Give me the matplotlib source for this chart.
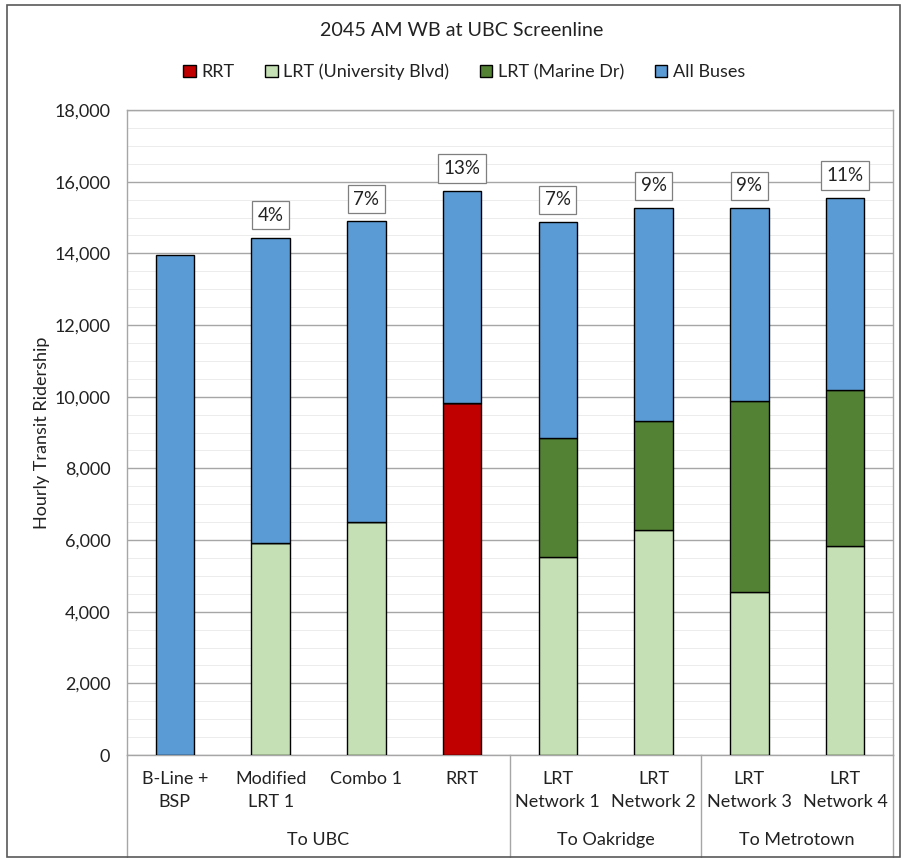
import matplotlib
matplotlib.use("Agg")
import matplotlib.pyplot as plt
import numpy as np
from matplotlib.lines import Line2D
from matplotlib.patches import Rectangle

plt.rcParams['font.family'] = ['Lato', 'DejaVu Sans']

line1 = ["B-Line +", "Modified", "Combo 1", "RRT", "LRT", "LRT", "LRT", "LRT"]
line2 = ["BSP", "LRT 1", "", "", "Network 1", "Network 2", "Network 3", "Network 4"]
groups = ["To UBC", "To Oakridge", "To Metrotown"]
group_sizes = [4, 2, 2]

rrt = [0, 0, 0, 9820, 0, 0, 0, 0]
lrt_univ = [0, 5920, 6510, 0, 5520, 6270, 4550, 5840]
lrt_marine = [0, 0, 0, 0, 3340, 3050, 5330, 4360]
buses = [13950, 8520, 8380, 5930, 6010, 5940, 5380, 5350]
pct = ["", "4%", "7%", "13%", "7%", "9%", "9%", "11%"]

col_rrt = "#c00000"
col_univ = "#c5e0b4"
col_marine = "#548235"
col_bus = "#5b9bd5"

W, H = 904, 858
fig = plt.figure(figsize=(W / 100, H / 100), dpi=100)
L, R, B, T = 127, 893, 755, 110
ax = fig.add_axes([L / W, 1 - B / H, (R - L) / W, (B - T) / H])

x = np.arange(len(line1))
bw = 0.4
kw = dict(width=bw, edgecolor="black", linewidth=1.0, zorder=3)
b0 = np.zeros(len(x))
ax.bar(x, rrt, bottom=b0, color=col_rrt, label="RRT", **kw)
b0 = b0 + np.array(rrt)
ax.bar(x, lrt_univ, bottom=b0, color=col_univ, label="LRT (University Blvd)", **kw)
b0 = b0 + np.array(lrt_univ)
ax.bar(x, lrt_marine, bottom=b0, color=col_marine, label="LRT (Marine Dr)", **kw)
b0 = b0 + np.array(lrt_marine)
ax.bar(x, buses, bottom=b0, color=col_bus, label="All Buses", **kw)
totals = b0 + np.array(buses)

for xi, t, p in zip(x, totals, pct):
    if p:
        ax.annotate(p, (xi, t), xytext=(0, 16), textcoords="offset points",
                    ha="center", va="center", fontsize=13.5, color="#222222",
                    bbox=dict(boxstyle="square,pad=0.3", fc="white", ec="#7f7f7f", lw=0.9),
                    zorder=5)

ax.set_xlim(-0.5, len(x) - 0.5)
ax.set_ylim(0, 18000)
ax.set_yticks(np.arange(0, 18001, 2000))
ax.set_yticklabels([f"{v:,}" for v in range(0, 18001, 2000)], fontsize=13, color="#222222")
ax.set_yticks(np.arange(0, 18001, 500), minor=True)
ax.grid(axis="y", which="major", color="#a6a6a6", linewidth=1.0, zorder=0)
ax.grid(axis="y", which="minor", color="#ececec", linewidth=0.7, zorder=0)
ax.tick_params(axis="y", which="both", length=0, pad=12)
ax.set_xticks([])
for s in ["left", "right", "top", "bottom"]:
    ax.spines[s].set_color("#a6a6a6")
    ax.spines[s].set_linewidth(1.0)
ax.set_ylabel("Hourly Transit Ridership", fontsize=13, color="#222222")
ax.yaxis.set_label_coords(-0.100, 0.5)

def fy(py):
    return 1 - py / H

tr = ax.get_xaxis_transform()
ax_px = (B - T)
def ay(py):
    return -(py - B) / ax_px

for xi, a, b in zip(x, line1, line2):
    ax.text(xi, ay(779), a, transform=tr, ha="center", va="center", fontsize=13, color="#222222")
    if b:
        ax.text(xi, ay(802), b, transform=tr, ha="center", va="center", fontsize=13, color="#222222")

start = -0.5
seps = [start]
for g, n in zip(groups, group_sizes):
    ax.text(start + n / 2, ay(840), g, transform=tr, ha="center", va="center", fontsize=13, color="#222222")
    start += n
    seps.append(start)
for s in seps:
    ax.add_line(Line2D([s, s], [0, ay(857)], transform=tr, color="#a6a6a6", lw=1.0, clip_on=False))

fig.text(462 / W, fy(31), "2045 AM WB at UBC Screenline", ha="center", va="center",
         fontsize=14.2, color="#222222")
fig.legend(loc="center", bbox_to_anchor=(464 / W, fy(72)), ncol=4, frameon=False,
           fontsize=13, handlelength=0.7, handleheight=0.7, handletextpad=0.3, columnspacing=1.7,
           labelcolor="#222222")

fig.add_artist(Rectangle((7 / W, 1 / H), 893 / W, 852 / H, transform=fig.transFigure,
                         fill=False, ec="#595959", lw=1.2))

fig.savefig("out.png", dpi=100)
